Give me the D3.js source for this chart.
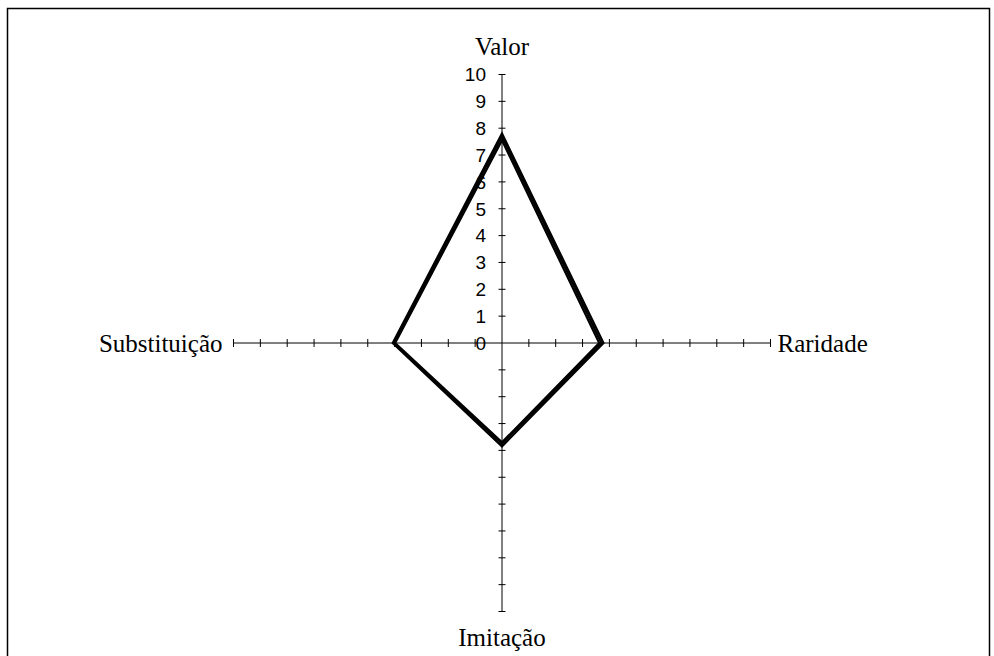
<!DOCTYPE html>
<html lang="en">
<head>
    <meta charset="UTF-8">
    <title>Radar</title>
    <style>
        body { margin: 0; background: #fff; }
    </style>
</head>
<body>
<script type='text/javascript' src='https://d3js.org/d3.v7.min.js'></script>
<script>
    // axes, clockwise from top
    const axes = ["Valor", "Raridade", "Imitação", "Substituição"];
    const ticks = [0, 1, 2, 3, 4, 5, 6, 7, 8, 9, 10];

    // three series, almost on top of each other
    const serieA = [7.8, 3.78, 3.85, 4.07];
    const serieB = [7.7, 3.7, 3.75, 4.03];
    const serieC = [7.55, 3.62, 3.7, 3.98];
    const series = [serieA, serieB, serieC];

    const width = 994, height = 656;
    const cx = 502, cy = 343;

    const svg = d3.select("body")
        .append("svg")
        .attr("width", width)
        .attr("height", height);

    // frame
    svg.append("rect")
        .attr("x", 7.5)
        .attr("y", 8.5)
        .attr("width", 982)
        .attr("height", 670)
        .attr("fill", "none")
        .attr("stroke", "#000")
        .attr("stroke-width", 1.5);

    const r = d3.scaleLinear()
        .domain([0, 10])
        .range([0, 268.5]);

    const angle = i => i * Math.PI / 2; // 0 = up
    const px = (i, v) => cx + Math.sin(angle(i)) * r(v);
    const py = (i, v) => cy - Math.cos(angle(i)) * r(v);

    const g = svg.append("g");

    // axis lines + ticks
    axes.forEach((name, i) => {
        g.append("line")
            .attr("x1", cx).attr("y1", cy)
            .attr("x2", px(i, 10)).attr("y2", py(i, 10))
            .attr("stroke", "#000")
            .attr("stroke-width", 1);

        const vertical = (i % 2 === 0);
        g.selectAll(null)
            .data(ticks.slice(1))
            .enter()
            .append("line")
            .attr("x1", d => vertical ? px(i, d) - 3.5 : px(i, d))
            .attr("x2", d => vertical ? px(i, d) + 3.5 : px(i, d))
            .attr("y1", d => vertical ? py(i, d) : py(i, d) - 4)
            .attr("y2", d => vertical ? py(i, d) : py(i, d) + 4)
            .attr("stroke", "#000")
            .attr("stroke-width", 1);
    });

    // tick labels on the Valor axis
    g.selectAll(null)
        .data(ticks)
        .enter()
        .append("text")
        .attr("x", cx - 16)
        .attr("y", d => py(0, d))
        .attr("dy", "0.36em")
        .attr("text-anchor", "end")
        .attr("font-family", "Liberation Sans, Arial, sans-serif")
        .attr("font-size", 19)
        .text(d => d);

    // series
    const line = d3.line()
        .x(d => px(d.i, d.v))
        .y(d => py(d.i, d.v))
        .curve(d3.curveLinearClosed);

    g.selectAll(null)
        .data(series)
        .enter()
        .append("path")
        .attr("d", s => line(s.map((v, i) => ({i: i, v: v}))))
        .attr("fill", "none")
        .attr("stroke", "#000")
        .attr("stroke-width", 2.2)
        .attr("stroke-linejoin", "miter");

    // axis titles
    const titleFont = "Liberation Serif, Times New Roman, serif";
    const tf = 25;
    g.append("text")
        .attr("x", cx).attr("y", py(0, 10) - 20)
        .attr("text-anchor", "middle")
        .attr("font-family", titleFont).attr("font-size", tf)
        .text(axes[0]);
    g.append("text")
        .attr("x", px(1, 10) + 7).attr("y", cy).attr("dy", "0.35em")
        .attr("text-anchor", "start")
        .attr("font-family", titleFont).attr("font-size", tf)
        .text(axes[1]);
    g.append("text")
        .attr("x", cx).attr("y", py(2, 10) + 34)
        .attr("text-anchor", "middle")
        .attr("font-family", titleFont).attr("font-size", tf)
        .text(axes[2]);
    g.append("text")
        .attr("x", px(3, 10) - 11).attr("y", cy).attr("dy", "0.35em")
        .attr("text-anchor", "end")
        .attr("font-family", titleFont).attr("font-size", tf)
        .text(axes[3]);
</script>
</body>
</html>
